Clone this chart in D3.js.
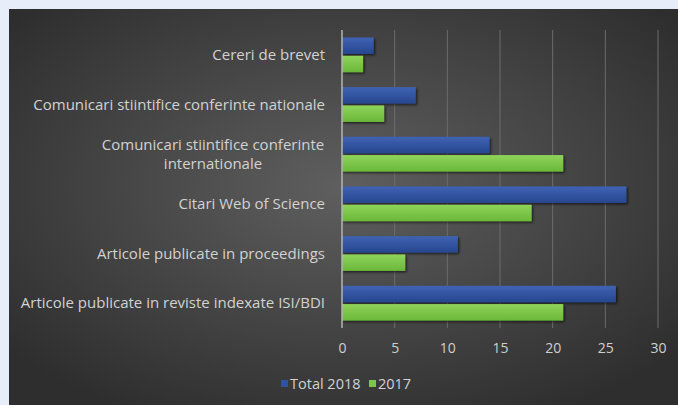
<!DOCTYPE html>
<html>
<head>
<meta charset="utf-8">
<script src="https://cdn.jsdelivr.net/npm/d3@7"></script>
<style>
  body { margin: 0; background: #e7eefa; }
  svg { display: block; }
</style>
</head>
<body>
<svg id="chart" width="678" height="405"></svg>
<script>
// categories, top to bottom
const categories = [
  'Cereri de brevet',
  'Comunicari stiintifice conferinte nationale',
  'Comunicari stiintifice conferinte internationale',
  'Citari Web of Science',
  'Articole publicate in proceedings',
  'Articole publicate in reviste indexate ISI/BDI'
]
const seriesNames = ['Total 2018', '2017']
const total2018 = [3, 7, 14, 27, 11, 26]
const y2017 = [2, 4, 21, 18, 6, 21]
const xTicks = [0, 5, 10, 15, 20, 25, 30]

const svg = d3.select('#chart')
const margin = { top: 30, right: 20, bottom: 77, left: 342 }
const width = +svg.attr('width') - margin.left - margin.right
const height = +svg.attr('height') - margin.top - margin.bottom
const font = '"Open Sans", sans-serif'

const defs = svg.append('defs')
const bg = defs.append('radialGradient').attr('id', 'bg')
  .attr('cx', '50%').attr('cy', '45%').attr('r', '65%')
bg.append('stop').attr('offset', '0%').attr('stop-color', '#5f5f5f')
bg.append('stop').attr('offset', '100%').attr('stop-color', '#2e2e2e')

const blueGrad = defs.append('linearGradient').attr('id', 'blueGrad')
  .attr('x1', 0).attr('y1', 0).attr('x2', 0).attr('y2', 1)
blueGrad.append('stop').attr('offset', '0%').attr('stop-color', '#3f63b3')
blueGrad.append('stop').attr('offset', '100%').attr('stop-color', '#27468f')
const greenGrad = defs.append('linearGradient').attr('id', 'greenGrad')
  .attr('x1', 0).attr('y1', 0).attr('x2', 0).attr('y2', 1)
greenGrad.append('stop').attr('offset', '0%').attr('stop-color', '#8fd45a')
greenGrad.append('stop').attr('offset', '100%').attr('stop-color', '#6ab83a')

const shadow = defs.append('filter').attr('id', 'shadow')
  .attr('x', '-10%').attr('y', '-30%').attr('width', '130%').attr('height', '180%')
shadow.append('feDropShadow').attr('dx', 1.5).attr('dy', 1.5).attr('stdDeviation', 1.2)
  .attr('flood-color', '#000').attr('flood-opacity', 0.6)

// chart background panel
svg.append('rect').attr('x', 9).attr('y', 9).attr('width', 669).attr('height', 396)
  .attr('fill', 'url(#bg)')

const g = svg.append('g').attr('transform', `translate(${margin.left},${margin.top})`)

const x = d3.scaleLinear().domain([0, 30]).range([0, width])
const y = d3.scaleBand().domain(categories).range([0, height]).paddingInner(0.3).paddingOuter(0.15)
const ySub = d3.scaleBand().domain(seriesNames).range([0, y.bandwidth()]).paddingInner(0.1)
const colors = { 'Total 2018': 'url(#blueGrad)', '2017': 'url(#greenGrad)' }
const legendColors = { 'Total 2018': '#2f52a3', '2017': '#7bc74a' }

// gridlines
g.append('g').selectAll('line')
  .data(xTicks.slice(1))
  .enter().append('line')
  .attr('x1', d => x(d)).attr('x2', d => x(d))
  .attr('y1', 0).attr('y2', height)
  .attr('stroke', '#6c6c6c').attr('stroke-width', 1)

// bars
const rows = categories.map((c, i) => ({ cat: c, values: [total2018[i], y2017[i]] }))
g.append('g').selectAll('g')
  .data(rows)
  .enter().append('g')
  .attr('transform', d => `translate(0,${y(d.cat)})`)
  .selectAll('rect')
  .data(d => seriesNames.map((s, j) => ({ key: s, value: d.values[j] })))
  .enter().append('rect')
  .attr('x', x(0))
  .attr('y', d => ySub(d.key))
  .attr('width', d => x(d.value) - x(0))
  .attr('height', ySub.bandwidth())
  .attr('fill', d => colors[d.key])
  .attr('filter', 'url(#shadow)')

// axis line at zero
g.append('line')
  .attr('x1', x(0)).attr('x2', x(0)).attr('y1', 0).attr('y2', height)
  .attr('stroke', '#b5b5b5').attr('stroke-width', 1.5)

// x axis tick labels
const xAxis = g.append('g')
  .attr('transform', `translate(0,${height + 12})`)
  .call(d3.axisBottom(x).tickValues(xTicks).tickSize(0))
xAxis.select('.domain').remove()
xAxis.selectAll('text')
  .attr('fill', '#cfcfcf').attr('font-size', 14).attr('font-family', font)

// category labels
const labelLines = {
  'Comunicari stiintifice conferinte internationale': ['Comunicari stiintifice conferinte', 'internationale']
}
const labels = g.append('g').selectAll('text')
  .data(categories)
  .enter().append('text')
  .attr('fill', '#d2d2d2')
  .attr('font-size', 15)
  .attr('font-family', font)
  .attr('y', d => y(d) + y.bandwidth() / 2)
labels.each(function (d) {
  const lines = labelLines[d] || [d]
  const t = d3.select(this)
  t.attr('text-anchor', lines.length > 1 ? 'middle' : 'end')
  lines.forEach((ln, k) => {
    t.append('tspan')
      .attr('x', lines.length > 1 ? -129 : -17)
      .attr('dy', k === 0 ? (0.35 - (lines.length - 1) * 0.65) + 'em' : '1.3em')
      .text(ln)
  })
})

// legend
const legend = svg.append('g').attr('font-family', font).attr('font-size', 14.5)
const legendX = [281, 369]
seriesNames.forEach((s, i) => {
  const lg = legend.append('g').attr('transform', `translate(${legendX[i]},384)`)
  lg.append('rect').attr('x', 0).attr('y', -4).attr('width', 7).attr('height', 7)
    .attr('fill', legendColors[s])
  lg.append('text').attr('x', 9).attr('y', 0).attr('dy', '0.35em')
    .attr('fill', '#d2d2d2').text(s)
})
</script>
</body>
</html>
